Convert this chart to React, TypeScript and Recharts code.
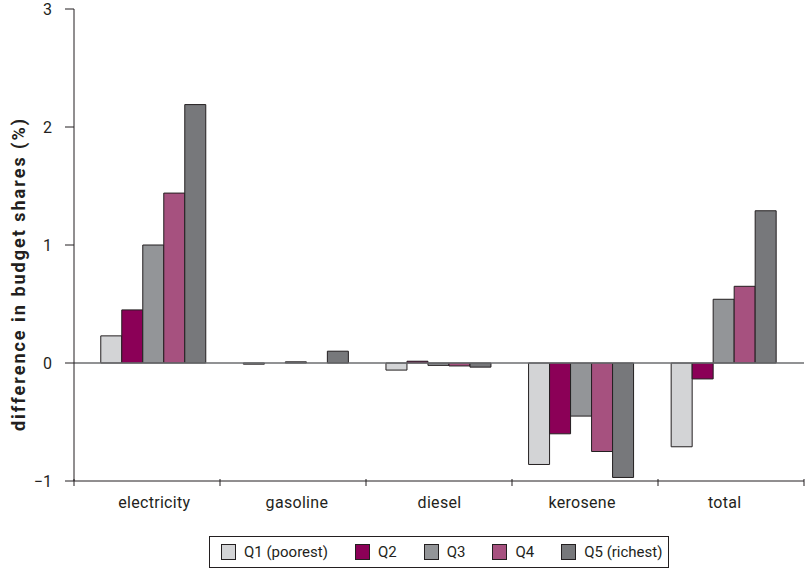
import React from 'react';
import { BarChart, Bar, XAxis, YAxis, ReferenceLine, Legend } from 'recharts';

const categories = ['electricity', 'gasoline', 'diesel', 'kerosene', 'total'];
const q1 = [0.23, -0.01, -0.06, -0.86, -0.71];
const q2 = [0.45, 0.0, 0.015, -0.6, -0.135];
const q3 = [1.0, 0.01, -0.02, -0.45, 0.54];
const q4 = [1.44, 0.0, -0.025, -0.75, 0.65];
const q5 = [2.19, 0.1, -0.035, -0.97, 1.29];
const seriesNames = ['Q1 (poorest)', 'Q2', 'Q3', 'Q4', 'Q5 (richest)'];
const yTicks = [-1, 0, 1, 2, 3];

const colors = ['#d3d4d6', '#8b0057', '#939598', '#a6517f', '#77787b'];
const keys = ['q1', 'q2', 'q3', 'q4', 'q5'];
const seriesValues = [q1, q2, q3, q4, q5];

const data = categories.map((c, i) => {
  const row: any = { name: c };
  keys.forEach((k, j) => {
    row[k] = seriesValues[j][i];
  });
  return row;
});

const FONT = 'Roboto, "Liberation Sans", sans-serif';
const AXIS = '#231f20';
const PAD_L = 9;
const PAD_R = 8;

// category label centred on the bar group, plus boundary tick marks of the category frame
const XTick = (props: any) => {
  const { x, y, payload, index, visibleTicksCount } = props;
  const n = visibleTicksCount || categories.length;
  const W = typeof props.width === 'number' && props.width > 100 ? props.width : 730;
  const band = (W - PAD_L - PAD_R) / n;
  const left = x - PAD_L - band * (index + 0.5);
  const frame = W / n;
  const bx = left + index * frame;
  const axisY = y - 8;
  return (
    <g>
      <line x1={bx} x2={bx} y1={axisY} y2={axisY + 7} stroke={AXIS} strokeWidth={1} />
      {index === n - 1 && (
        <line x1={left + W} x2={left + W} y1={axisY} y2={axisY + 7} stroke={AXIS} strokeWidth={1} />
      )}
      <text x={x} y={axisY + 29} textAnchor="middle" fill="#231f20" fontSize={16} letterSpacing={0.3} fontFamily={FONT}>
        {payload.value}
      </text>
    </g>
  );
};

const YLabel = (props: any) => {
  const vb = props.viewBox || { x: 74, y: 9, width: 0, height: 471 };
  const cx = 25;
  const cy = vb.y + vb.height / 2 + 29;
  return (
    <text
      x={cx}
      y={cy}
      transform={`rotate(-90, ${cx}, ${cy})`}
      textAnchor="middle"
      fontWeight="bold"
      fontSize={18}
      letterSpacing={2}
      fontFamily={FONT}
      fill="#231f20"
    >
      difference in budget shares (%)
    </text>
  );
};

const LegendContent = () => (
  <div
    style={{
      boxSizing: 'border-box',
      width: 460,
      height: 32,
      border: '1px solid #231f20',
      display: 'flex',
      alignItems: 'center',
      paddingLeft: 11,
      fontFamily: FONT,
      fontSize: 15,
      color: '#231f20',
      background: '#fff',
      whiteSpace: 'nowrap',
      overflow: 'visible',
    }}
  >
    {seriesNames.map((n, i) => (
      <div
        key={n}
        style={{ display: 'flex', alignItems: 'center', flexShrink: 0, marginRight: i === 4 ? 0 : 27 }}
      >
        <div
          style={{
            boxSizing: 'border-box',
            width: 15,
            height: 16,
            background: colors[i],
            border: '1px solid #231f20',
            marginRight: 8,
            flexShrink: 0,
          }}
        />
        <span style={{ whiteSpace: 'nowrap' }}>{n}</span>
      </div>
    ))}
  </div>
);

export default function App() {
  return (
    <div style={{ position: 'absolute', left: 0, top: 0, width: 808, height: 575, background: '#fff' }}>
      <BarChart
        width={808}
        height={575}
        data={data}
        margin={{ top: 9, right: 4, left: 14, bottom: 32 }}
        barCategoryGap="12.46%"
        barGap={0}
      >
        <XAxis
          dataKey="name"
          axisLine={{ stroke: AXIS, strokeWidth: 1 }}
          tickLine={false}
          tick={<XTick />}
          tickMargin={0}
          interval={0}
          padding={{ left: PAD_L, right: PAD_R }}
          height={30}
        />
        <YAxis
          domain={[-1, 3]}
          ticks={yTicks}
          width={60}
          interval={0}
          axisLine={{ stroke: AXIS, strokeWidth: 1 }}
          tickLine={{ stroke: AXIS, strokeWidth: 1 }}
          tickSize={9}
          tickMargin={13}
          tick={{ fill: '#231f20', fontSize: 16, fontFamily: FONT }}
          tickFormatter={(v: number) => (v < 0 ? '\u2212' + Math.abs(v) : String(v))}
          label={<YLabel />}
        />
        <ReferenceLine y={0} stroke="#6d6e71" strokeWidth={1.5} />
        {keys.map((k, i) => (
          <Bar
            key={k}
            dataKey={k}
            name={seriesNames[i]}
            fill={colors[i]}
            stroke="#231f20"
            strokeWidth={1}
            isAnimationActive={false}
          />
        ))}
        <Legend
          layout="vertical"
          align="center"
          verticalAlign="bottom"
          content={<LegendContent />}
          wrapperStyle={{ left: 209, top: 536, bottom: 'auto', right: 'auto', width: 460, height: 32 }}
        />
      </BarChart>
    </div>
  );
}
